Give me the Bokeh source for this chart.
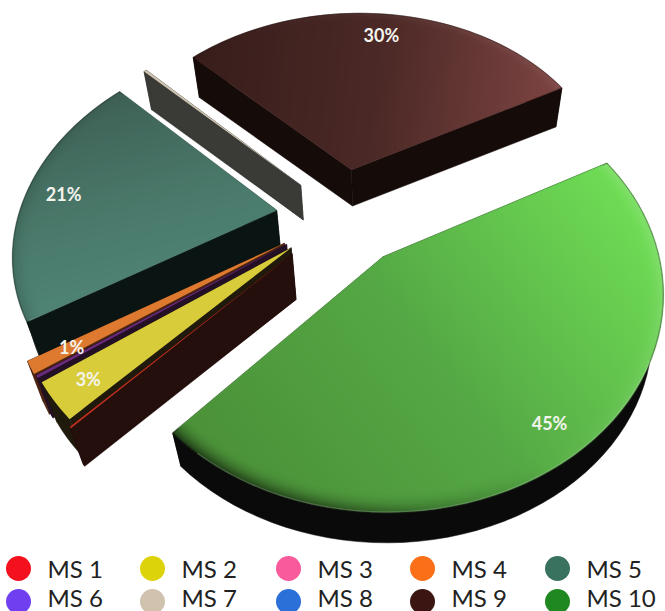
import numpy as np
from bokeh.core.properties import value
from bokeh.embed import file_html
from bokeh.models import Range1d
from bokeh.plotting import figure
from bokeh.resources import INLINE

# Pie data, in the clockwise order of the slices
NAMES = ["MS 1", "MS 2", "MS 3", "MS 4", "MS 5", "MS 6", "MS 7", "MS 8", "MS 9", "MS 10"]
SHARES = [0.12, 3, 0.2, 1, 21, 0, 0.2, 0, 30, 45]

# Legend swatches and slice surfaces
LEGEND_COLORS = ["#f5101e", "#dcd30a", "#f85a9c", "#fb6f18", "#3a7260",
                 "#7040f0", "#d0c2ae", "#2a70d8", "#3a1512", "#208820"]
WALL_COLORS = ["#240f0d", "#1f1a0c", "#241024", "#4a2410", "#0a1412",
               "#201a50", "#3a3a36", "#10204a", "#150b09", "#0a0a0a"]
TOP_RAMPS = [["#c03020"], ["#d8cc3a"], ["#6a2a80"], ["#dd7a30"],
             ["#3f6156", "#4a7a6b", "#528878"], ["#7040f0"], ["#cfc4b2"], ["#2a70d8"],
             ["#381e1c", "#4b2926", "#7c4442"], ["#4b9038", "#55a845", "#6fdc55"]]
# Direction and origin of each colour ramp on the page, and its length
RAMP_AXES = {4: (0.25, 1.0, 120, 92, 240), 8: (1.0, 0.1, 197, 56, 362), 9: (0.8, -0.6, 173, 432, 500)}
RIM_STRENGTH = {4: 0.25, 8: 0.35, 9: 1.0}

# Explosion of each slice along its bisector
EXPLODE = [0.2599, 0.2435, 0.2470, 0.2510, 0.2507, 0.2400, 0.2269, 0.2400, 0.2429, 0.2587]
# Scale of the base relative to the top, about the vanishing point below the pie
BASE_SCALE = [0.955, 0.955, 0.955, 0.955, 0.96, 0.967, 0.968, 0.967, 0.967, 0.96]
VANISH = np.array([379.0, 1270.0])

# Homography of the pie plane onto the page
CENTER = np.array([341.00, 214.69])
MATRIX = np.array([[-183.39, -187.81], [144.67, -133.07]])
TILT = np.array([-0.1156, 0.1223])

PAINT_ORDER = [8, 6, 4, 3, 2, 1, 0, 9]
LABEL_RADIUS = {1: 0.87, 3: 0.85, 4: 0.85, 8: 0.85, 9: 0.87}
EDGE_SOFTNESS = 1.5
PIXELS_PER_UNIT = 230.0

fractions = np.array(SHARES) / sum(SHARES) * 2 * np.pi
starts = np.concatenate([[0], np.cumsum(fractions)[:-1]])
ends = starts + fractions
mids = (starts + ends) / 2


def top_points(i, phi, radius):
    phi = np.atleast_1d(phi)
    radius = np.broadcast_to(radius, phi.shape)
    plane = np.c_[EXPLODE[i] * np.cos(mids[i]) + radius * np.cos(phi),
                  EXPLODE[i] * np.sin(mids[i]) + radius * np.sin(phi)]
    return CENTER + (plane @ MATRIX.T) / (1 + plane @ TILT)[:, None]


def base_points(i, pts):
    return VANISH + BASE_SCALE[i] * (pts - VANISH)


def hex_rgb(c):
    return np.array([int(c[k:k + 2], 16) for k in (1, 3, 5)], float)


def surface_layer(i):
    """Shaded RGBA raster of a large slice's top, with its ramp and bevelled rim."""
    arc = top_points(i, np.linspace(starts[i], ends[i], 80), 1.0)
    apex = top_points(i, 0.0, 0.0)
    outline = np.vstack([arc, apex])
    x0, y0 = np.floor(outline.min(axis=0)).astype(int) - 2
    x1, y1 = np.ceil(outline.max(axis=0)).astype(int) + 2
    x0, y0 = max(x0, 0), max(y0, 0)
    x1, y1 = min(x1, 665), min(y1, 611)
    gx, gy = np.meshgrid(np.arange(x0, x1) + 0.5, np.arange(y0, y1) + 0.5)

    # Invert the homography for every pixel
    dx, dy = gx - CENTER[0], gy - CENTER[1]
    a11, a12 = MATRIX[0, 0] - dx * TILT[0], MATRIX[0, 1] - dx * TILT[1]
    a21, a22 = MATRIX[1, 0] - dy * TILT[0], MATRIX[1, 1] - dy * TILT[1]
    det = a11 * a22 - a12 * a21
    px = (a22 * dx - a12 * dy) / det - EXPLODE[i] * np.cos(mids[i])
    py = (a11 * dy - a21 * dx) / det - EXPLODE[i] * np.sin(mids[i])
    rho = np.hypot(px, py)
    phi = np.arctan2(py, px)

    def soft(d):
        return np.clip(d * PIXELS_PER_UNIT / EDGE_SOFTNESS + 0.5, 0, 1)

    alpha = soft(1 - rho) * soft(rho * np.sin(phi - starts[i])) * soft(rho * np.sin(ends[i] - phi))

    # Colour ramp across the page
    rx, ry, ox, oy, length = RAMP_AXES[i]
    t = np.clip(((gx - ox) * rx + (gy - oy) * ry) / length, 0, 1)
    stops = np.array([hex_rgb(c) for c in TOP_RAMPS[i]])
    knots = np.linspace(0, 1, len(stops))
    rgb = np.dstack([np.interp(t, knots, stops[:, k]) for k in range(3)])

    # Bevel: the rim lightens towards the upper right and darkens towards the viewer
    ux, uy = px / np.maximum(rho, 1e-6), py / np.maximum(rho, 1e-6)
    ox_, oy_ = MATRIX[0, 0] * ux + MATRIX[0, 1] * uy, MATRIX[1, 0] * ux + MATRIX[1, 1] * uy
    norm = np.hypot(ox_, oy_)
    light = (ox_ * 0.8 - oy_ * 0.6) / norm
    rim = np.clip((rho - 0.93) / 0.07, 0, 1) ** 2 * RIM_STRENGTH[i]
    lighten = (rim * np.clip(light, 0, 1) * 0.18)[..., None]
    darken = (rim * np.clip(-light, 0, 1) * 0.6)[..., None]
    rgb = rgb + (255 - rgb) * lighten
    rgb = rgb * (1 - darken)

    rgba = np.dstack([rgb, alpha * 255]).clip(0, 255).astype(np.uint8)
    return rgba.view(np.uint32).reshape(rgba.shape[:2]), x0, y0, x1 - x0, y1 - y0


p = figure(width=665, height=611, output_backend="svg", toolbar_location=None,
           x_range=Range1d(0, 665), y_range=Range1d(611, 0), min_border=0)
p.axis.visible = False
p.grid.visible = False
p.outline_line_color = None
p.background_fill_color = "white"

for i in PAINT_ORDER:
    if SHARES[i] <= 0:
        continue
    # Side faces of the slice
    arc = np.linspace(starts[i], ends[i], 60)
    rim_top = top_points(i, arc, 1.0)
    rim_base = base_points(i, rim_top)
    apex = top_points(i, 0.0, 0.0)
    apex_base = base_points(i, apex)
    faces = [np.vstack([rim_top, rim_base[::-1]]),
             np.vstack([apex, rim_top[:1], rim_base[:1], apex_base]),
             np.vstack([apex, rim_top[-1:], rim_base[-1:], apex_base])]
    p.patches([f[:, 0].tolist() for f in faces], [f[:, 1].tolist() for f in faces],
              fill_color=WALL_COLORS[i], line_color=WALL_COLORS[i], line_width=0.5)

    # Top surface as a flat wedge; the large slices get their shading layered on it
    shaded = i in RAMP_AXES
    outer = top_points(i, arc, 0.975 if shaded else 1.0)
    top = np.vstack([apex, outer])
    flat = TOP_RAMPS[i][len(TOP_RAMPS[i]) // 2]
    p.patch(top[:, 0].tolist(), top[:, 1].tolist(), fill_color=flat, line_color=None)
    if shaded:
        img, ix, iy, iw, ih = surface_layer(i)
        p.image_rgba(image=[img], x=ix, y=iy, dw=iw, dh=ih)

# Percentage labels for the slices of at least 1%
for i, share in enumerate(SHARES):
    if share >= 1:
        pos = top_points(i, mids[i], LABEL_RADIUS[i])[0]
        p.text([pos[0]], [pos[1]], text=[f"{share:.0f}%"], text_color="#f4f4ee",
               text_font=value("Lato"), text_font_size="18px", text_font_style="bold",
               text_align="center", text_baseline="middle")

# Legend in two rows of five
LEGEND_COLUMNS = [18, 152, 288, 422, 557]
LEGEND_ROWS = [568, 601]
LEGEND_TEXT_ROWS = [568, 596.5]
LEGEND_GAP = 29
for k, name in enumerate(NAMES):
    lx = LEGEND_COLUMNS[k % 5]
    p.scatter([lx], [LEGEND_ROWS[k // 5]], size=25, marker="circle",
              fill_color=LEGEND_COLORS[k], line_color=None)
    p.text([lx + LEGEND_GAP], [LEGEND_TEXT_ROWS[k // 5]], text=[name], text_color="#222222",
           text_font=value("Lato"), text_font_size="24px",
           text_align="left", text_baseline="middle")

open("out.html", "w").write(file_html(p, INLINE))
